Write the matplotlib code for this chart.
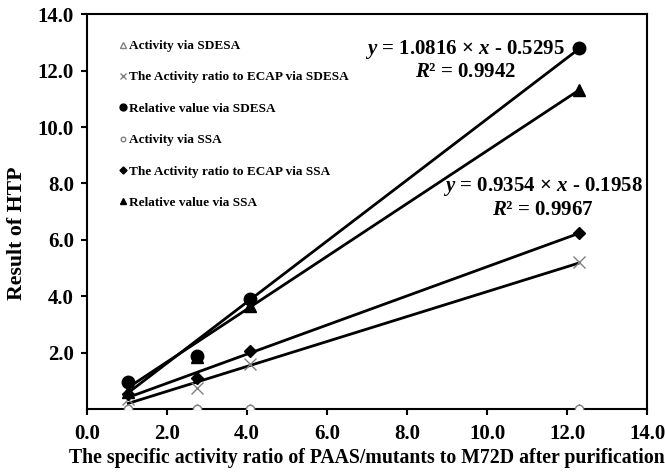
import numpy as np
import matplotlib
matplotlib.use('Agg')
import matplotlib.pyplot as plt

plt.rcParams['font.family'] = ['Liberation Serif', 'DejaVu Serif']
plt.rcParams['font.weight'] = 'bold'
plt.rcParams['mathtext.fontset'] = 'custom'
plt.rcParams['mathtext.it'] = 'Liberation Serif:italic:bold'
plt.rcParams['mathtext.rm'] = 'Liberation Serif:bold'

# --- data ---
ratio_x = [1.03, 2.75, 4.08, 12.3]
act_sdesa = [0.0, 0.0, 0.0, 0.0]
ratio_ecap_sdesa = [0.35, 0.75, 1.6, 5.2]
rel_sdesa = [0.95, 1.9, 3.92, 12.8]
act_ssa = [0.0, 0.0, 0.0, 0.0]
ratio_ecap_ssa = [0.55, 1.1, 2.05, 6.25]
rel_ssa = [0.6, 1.85, 3.65, 11.3]

# trendline coefficients shown in the chart
fit_sdesa = (1.0816, -0.5295, 0.9942)
fit_ssa = (0.9354, -0.1958, 0.9967)

fig = plt.figure(figsize=(6.65, 4.73), dpi=100)
ax = fig.add_axes([0.131, 0.135, 0.842, 0.835])

xs = np.array([min(ratio_x), max(ratio_x)])

# --- trendlines ---
ax.plot(xs, fit_sdesa[0] * xs + fit_sdesa[1], color='black', lw=2, zorder=2)
ax.plot(xs, fit_ssa[0] * xs + fit_ssa[1], color='black', lw=2, zorder=2)
for ser in (ratio_ecap_sdesa, ratio_ecap_ssa):
    k, b = np.polyfit(ratio_x, ser, 1)
    ax.plot(xs, k * xs + b, color='black', lw=2, zorder=2)

# --- points ---
h1, = ax.plot(ratio_x, act_sdesa, ls='none', marker='^', ms=7, mfc='white',
              mec='#808080', mew=1, label='Activity via SDESA', zorder=4)
h2, = ax.plot(ratio_x, ratio_ecap_sdesa, ls='none', marker='x', ms=9,
              color='#808080', mew=1, label='The Activity ratio to ECAP via SDESA', zorder=3)
h3, = ax.plot(ratio_x, rel_sdesa, ls='none', marker='o', ms=9, color='black',
              label='Relative value via SDESA', zorder=3)
h4, = ax.plot(ratio_x, act_ssa, ls='none', marker='o', ms=6, mfc='white',
              mec='#808080', mew=1, label='Activity via SSA', zorder=5)
h5, = ax.plot(ratio_x, ratio_ecap_ssa, ls='none', marker='D', ms=6.5, color='black',
              label='The Activity ratio to ECAP via SSA', zorder=3)
h6, = ax.plot(ratio_x, rel_ssa, ls='none', marker='^', ms=9, color='black',
              label='Relative value via SSA', zorder=3)

leg = ax.legend(handles=[h1, h2, h3, h4, h5, h6], loc='upper left',
                bbox_to_anchor=(0.035, 0.965), frameon=False, markerscale=0.55,
                handlelength=0.6, handletextpad=0.2, labelspacing=1.45,
                prop={'size': 9.5, 'weight': 'bold'})

# --- equations ---
ax.text(9.45, 12.38, '$y$ = %.4f \u00d7 $x$ - %.4f\n$R$\u00b2 = %.4f'
        % (abs(fit_sdesa[0]), abs(fit_sdesa[1]), fit_sdesa[2]),
        ha='center', va='center', multialignment='center', fontsize=15,
        linespacing=1.1)
ax.text(11.4, 7.5, '$y$ = %.4f \u00d7 $x$ - %.4f\n$R$\u00b2 = %.4f'
        % (abs(fit_ssa[0]), abs(fit_ssa[1]), fit_ssa[2]),
        ha='center', va='center', multialignment='center', fontsize=15,
        linespacing=1.1)

ax.set_xlim(0, 14)
ax.set_ylim(0, 14)
ax.set_xticks(np.arange(0, 15, 2))
ax.set_xticklabels(['%.1f' % v for v in np.arange(0, 15, 2)])
ax.set_yticks(np.arange(2, 15, 2))
ax.set_yticklabels(['%.1f' % v for v in np.arange(2, 15, 2)])
ax.tick_params(direction='out', length=4.5, width=1.5, labelsize=15)
ax.tick_params(axis='x', pad=6)
ax.tick_params(axis='y', pad=5)
for s in ax.spines.values():
    s.set_linewidth(1.5)

ax.set_xlabel('The specific activity ratio of PAAS/mutants to M72D after purification',
              fontsize=14.2, fontweight='bold', labelpad=3)
ax.set_ylabel('Result of HTP', fontsize=15.7, fontweight='bold')
ax.yaxis.set_label_coords(-0.108, 0.446)

fig.savefig('out.png', dpi=100)
